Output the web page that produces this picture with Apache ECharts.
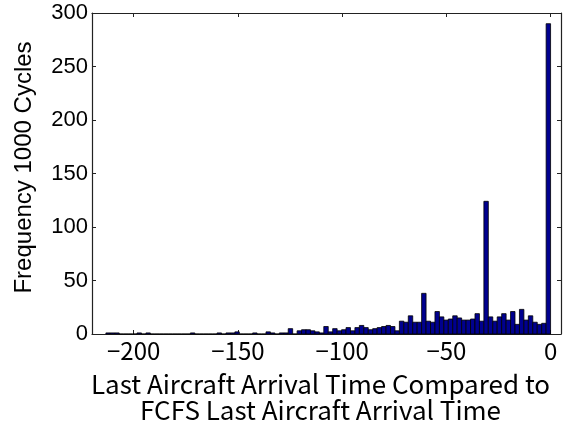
<!DOCTYPE html>
<html>
<head>
<meta charset="utf-8">
<script src="https://cdn.jsdelivr.net/npm/echarts@6/dist/echarts.min.js"></script>
<style>
html,body{margin:0;padding:0;background:#fff;}
#chart{width:566px;height:428px;}
</style>
</head>
<body>
<div id="chart"></div>
<script>
// Histogram: 100 bins of equal width starting at binStart
var binStart = -213.33;
var binWidth = 2.1333;
var counts = [
  1, 1, 1, 0, 0, 0, 0, 1, 0, 1,
  0, 0, 0, 0, 0, 0, 0, 0, 0, 1,
  0, 0, 0, 0, 0, 1, 0, 1, 1, 2,
  0, 0, 0, 1, 0, 0, 2, 1, 0, 1,
  1, 5, 0, 3, 4, 4, 3, 2, 1, 7,
  2, 5, 3, 4, 6, 3, 6, 8, 6, 4,
  5, 6, 7, 8, 7, 3, 12, 11, 17, 11,
  11, 38, 12, 11, 21, 16, 13, 14, 17, 15,
  13, 13, 14, 19, 12, 124, 16, 12, 16, 19,
  13, 21, 9, 23, 13, 17, 11, 9, 10, 290
];
var xTicks = [-200, -150, -100, -50, 0];
var yTicks = [0, 50, 100, 150, 200, 250, 300];
var xTitle = 'Last Aircraft Arrival Time Compared to\nFCFS Last Aircraft Arrival Time';
var yTitle = 'Frequency 1000 Cycles';

var binData = counts.map(function (c, i) {
  var left = binStart + i * binWidth;
  return [left, left + binWidth, c];
});

function fmt(v) { return v < 0 ? '\u2212' + Math.abs(v) : String(v); }

var FONT = '"Noto Sans CJK JP", "Liberation Sans", sans-serif';
var SANS = '"Liberation Sans", Arial, sans-serif';
var axisLine = {show: true, onZero: false, lineStyle: {color: '#222', width: 1.2}};
var tickStyle = {color: '#222', width: 1};

var chart = echarts.init(document.getElementById('chart'), null, {renderer: 'canvas'});
chart.setOption({
  animation: false,
  backgroundColor: '#fff',
  grid: {left: 92, right: 5, top: 13, bottom: 94},
  xAxis: [{
    type: 'value', min: -220, max: 5, position: 'bottom',
    axisLine: axisLine,
    splitLine: {show: false},
    axisTick: {show: true, inside: true, length: 4, customValues: xTicks, lineStyle: tickStyle},
    axisLabel: {customValues: xTicks, formatter: fmt, fontSize: 24, color: '#000', fontFamily: FONT, margin: 5},
    name: xTitle, nameLocation: 'middle', nameGap: 37,
    nameTextStyle: {fontSize: 26, color: '#000', fontFamily: FONT, lineHeight: 26, verticalAlign: 'top', padding: [0, 12, 0, 0]}
  }, {
    type: 'value', min: -220, max: 5, position: 'top',
    axisLine: axisLine, splitLine: {show: false},
    axisTick: {show: true, inside: true, length: 4, customValues: xTicks, lineStyle: tickStyle},
    axisLabel: {show: false}
  }],
  yAxis: [{
    type: 'value', min: 0, max: 300, position: 'left',
    axisLine: axisLine, splitLine: {show: false},
    axisTick: {show: true, inside: true, length: 4, customValues: yTicks, lineStyle: tickStyle},
    axisLabel: {customValues: yTicks, fontSize: 22, color: '#000', fontFamily: SANS, margin: 4},
    name: yTitle, nameLocation: 'middle', nameGap: 56, nameRotate: 90,
    nameTextStyle: {fontSize: 24, color: '#000', fontFamily: SANS, padding: [0, 0, 0, 12]}
  }, {
    type: 'value', min: 0, max: 300, position: 'right',
    axisLine: axisLine, splitLine: {show: false},
    axisTick: {show: true, inside: true, length: 4, customValues: yTicks, lineStyle: tickStyle},
    axisLabel: {show: false}
  }],
  series: [{
    type: 'custom',
    xAxisIndex: 0, yAxisIndex: 0,
    data: binData,
    encode: {x: [0, 1], y: 2},
    renderItem: function (params, api) {
      var p0 = api.coord([api.value(0), api.value(2)]);
      var p1 = api.coord([api.value(1), 0]);
      return {
        type: 'rect',
        shape: {x: p0[0], y: p0[1], width: p1[0] - p0[0], height: p1[1] - p0[1]},
        style: {fill: '#00008f', stroke: '#000', lineWidth: 0.8}
      };
    }
  }]
});
</script>
</body>
</html>
